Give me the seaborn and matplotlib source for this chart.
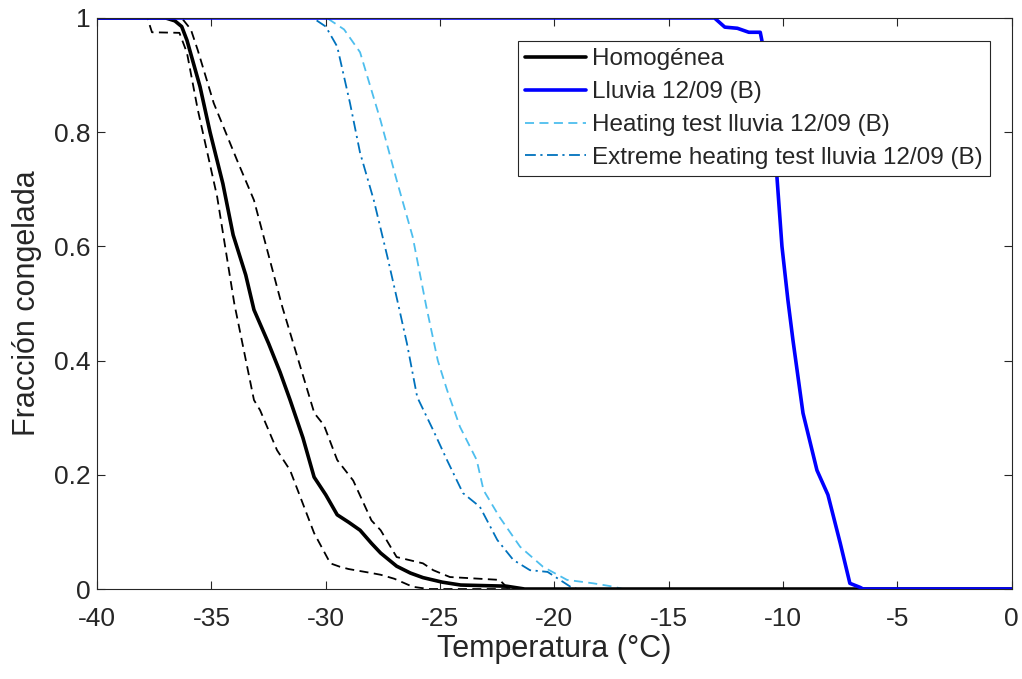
import numpy as np
import pandas as pd
import seaborn as sns
import matplotlib.pyplot as plt
from matplotlib.ticker import FuncFormatter

# Homogénea (media) y sus bandas
homo_t = [-40, -37, -36.6, -36.3, -36.07, -35.5, -35.06, -34.5, -34.05, -33.5, -33.14,
          -32.5, -32.0, -31.56, -31.0, -30.51, -30.0, -29.5, -29.0, -28.5, -28.0, -27.6,
          -26.9, -26.3, -25.75, -24.9, -24.1, -22.1, -21.3, 0]
homo_f = [1, 1, 0.995, 0.985, 0.961, 0.88, 0.80, 0.71, 0.62, 0.55, 0.489,
          0.43, 0.38, 0.331, 0.265, 0.196, 0.165, 0.13, 0.117, 0.103, 0.08, 0.063,
          0.04, 0.028, 0.02, 0.012, 0.007, 0.005, 0, 0]

low_t = [-40, -37.8, -37.6, -36.4, -36.07, -35.6, -34.75, -34.0, -33.14, -32.87, -32.13,
         -31.56, -30.51, -29.8, -29.38, -29.0, -28.0, -27.6, -27.0, -26.2, -25.5, 0]
low_f = [1, 1, 0.975, 0.974, 0.939, 0.84, 0.687, 0.50, 0.331, 0.313, 0.243,
         0.208, 0.098, 0.045, 0.039, 0.035, 0.028, 0.025, 0.018, 0.004, 0, 0]

up_t = [-40, -36.3, -35.9, -35.6, -34.9, -33.88, -33.14, -31.9, -30.5, -30.08, -29.5,
        -28.8, -28.0, -27.6, -26.9, -25.75, -25.3, -24.57, -22.4, -22.0, 0]
up_f = [1, 1, 0.98, 0.944, 0.851, 0.751, 0.681, 0.494, 0.308, 0.287, 0.226,
        0.19, 0.12, 0.103, 0.056, 0.045, 0.033, 0.021, 0.016, 0, 0]

# Lluvia 12/09 (B)
lluvia_t = [-40, -13.0, -12.55, -12.0, -11.5, -11.0, -10.93, -10.5, -10.27, -10.05, -9.79,
            -9.57, -9.13, -8.52, -8.04, -7.5, -7.08, -6.64, -6.5, 0]
lluvia_f = [1, 1, 0.984, 0.982, 0.975, 0.975, 0.961, 0.82, 0.722, 0.6, 0.506,
            0.436, 0.308, 0.208, 0.165, 0.08, 0.01, 0.003, 0, 0]

# Heating test
heat_t = [-40, -29.95, -29.2, -28.5, -27.6, -26.9, -26.2, -25.6, -25.1, -24.7, -24.13,
          -23.4, -23.1, -22.4, -21.5, -20.5, -19.45, -18.3, -17.4, -17.0, 0]
heat_f = [1, 1, 0.98, 0.94, 0.82, 0.716, 0.617, 0.494, 0.40, 0.349, 0.284,
          0.226, 0.173, 0.126, 0.074, 0.039, 0.016, 0.01, 0.004, 0, 0]

# Extreme heating test
ext_t = [-40, -30.56, -30.0, -29.5, -28.94, -28.5, -27.9, -27.3, -26.84, -26.45, -26.0,
         -25.3, -24.7, -24.0, -23.26, -22.5, -21.8, -21.07, -20.3, -19.76, -19.3, -19.0, 0]
ext_f = [1, 1, 0.985, 0.95, 0.851, 0.764, 0.681, 0.581, 0.50, 0.43, 0.336,
         0.278, 0.226, 0.168, 0.144, 0.086, 0.051, 0.033, 0.03, 0.016, 0.004, 0, 0]

sns.set_style("ticks")
plt.rcParams['font.family'] = ['Liberation Sans', 'DejaVu Sans']
plt.rcParams['axes.unicode_minus'] = False

fig, ax = plt.subplots(figsize=(10.22, 6.79), dpi=100)
fig.subplots_adjust(left=0.095, right=0.990, bottom=0.1325, top=0.9735)

sns.lineplot(x=low_t, y=low_f, ax=ax, color='black', linewidth=1.3,
             estimator=None, sort=False)
ax.lines[-1].set_dashes((5, 3))
sns.lineplot(x=up_t, y=up_f, ax=ax, color='black', linewidth=1.3,
             estimator=None, sort=False)
ax.lines[-1].set_dashes((5, 3))
sns.lineplot(x=ext_t, y=ext_f, ax=ax, color='#0072BD', linewidth=1.3,
             estimator=None, sort=False, label='Extreme heating test lluvia 12/09 (B)')
ax.lines[-1].set_dashes((6, 2.5, 1.2, 2.5))
sns.lineplot(x=heat_t, y=heat_f, ax=ax, color='#4DBEEE', linewidth=1.3,
             estimator=None, sort=False, label='Heating test lluvia 12/09 (B)')
ax.lines[-1].set_dashes((5, 3))
sns.lineplot(x=homo_t, y=homo_f, ax=ax, color='black', linewidth=2.6,
             estimator=None, sort=False, label='Homogénea')
sns.lineplot(x=lluvia_t, y=lluvia_f, ax=ax, color='#0000FF', linewidth=2.6,
             estimator=None, sort=False, label='Lluvia 12/09 (B)')

ax.set_xlim(-40, 0)
ax.set_ylim(0, 1)
ax.set_xticks(np.arange(-40, 1, 5))
ax.set_yticks(np.arange(0, 1.01, 0.2))
ax.yaxis.set_major_formatter(FuncFormatter(lambda v, p: f'{v:g}'))
ax.tick_params(direction='in', top=True, right=True, labelsize=19,
               colors='#262626', length=6, width=0.8)
ax.tick_params(axis='x', pad=13)
ax.tick_params(axis='y', pad=5)
for s in ax.spines.values():
    s.set_color('#262626')
    s.set_linewidth(0.8)
ax.set_xlabel('Temperatura (°C)', fontsize=22, color='#262626', labelpad=2)
ax.set_ylabel('Fracción congelada', fontsize=22, color='#262626', labelpad=8)

handles, labels = ax.get_legend_handles_labels()
order = ['Homogénea', 'Lluvia 12/09 (B)', 'Heating test lluvia 12/09 (B)',
         'Extreme heating test lluvia 12/09 (B)']
hmap = dict(zip(labels, handles))
leg = ax.legend([hmap[k] for k in order], order, loc='upper right', fontsize=17.5,
                frameon=True, fancybox=False, edgecolor='#262626', framealpha=1,
                handlelength=2.5, handletextpad=0.25, borderpad=0.3, labelspacing=0.45,
                borderaxespad=0, bbox_to_anchor=(0.976, 0.96))
leg.get_frame().set_linewidth(0.8)

fig.savefig('out.png', dpi=100)
